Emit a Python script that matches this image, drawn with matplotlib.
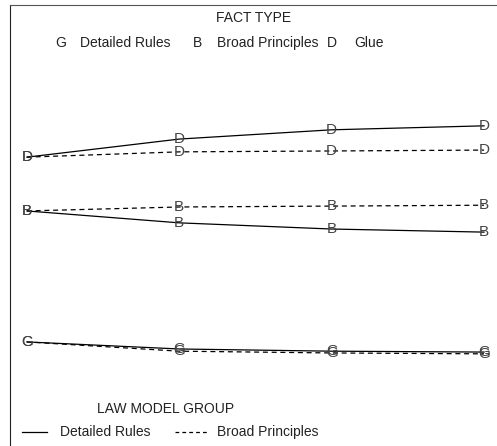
import matplotlib.pyplot as plt
from matplotlib.lines import Line2D

plt.rcParams['font.family'] = ['Liberation Sans', 'DejaVu Sans']

# x positions (4 time points) and values per fact type / law model group
periods = [1, 2, 3, 4]
glue_rules = [65.5, 69.6, 71.7, 72.6]
glue_principles = [65.5, 66.7, 66.9, 67.1]
broad_principles = [53.3, 54.2, 54.4, 54.6]
broad_rules = [53.3, 50.6, 49.2, 48.5]
detailed_rules = [23.6, 22.0, 21.5, 21.3]
detailed_principles = [23.6, 21.5, 21.1, 20.9]

series = [
    (glue_rules, 'D', '-'),
    (glue_principles, 'D', '--'),
    (broad_principles, 'B', '--'),
    (broad_rules, 'B', '-'),
    (detailed_rules, 'G', '-'),
    (detailed_principles, 'G', '--'),
]

W, H = 497, 446
fig = plt.figure(figsize=(W / 100, H / 100), dpi=100)
ax = fig.add_axes([10 / W, 0, 487 / W, 441 / H])
ax.set_xlim(0.889, 4.085)
ax.set_ylim(0, 100)

for vals, letter, ls in series:
    ax.plot(periods, vals, color='black', lw=0.9, ls=ls,
            dashes=(4, 3) if ls == '--' else (None, None))
    for x, y in zip(periods, vals):
        ax.text(x, y, letter, ha='center', va='center', fontsize=11,
                color='#444444')

ax.set_xticks([])
ax.set_yticks([])
for side in ['right', 'bottom']:
    ax.spines[side].set_visible(False)
ax.spines['top'].set_color('#555555')
ax.spines['left'].set_color('#222222')


def px(x, y):
    return x / W, 1 - y / H


tc = '#222222'
fs = 10
fig.text(*px(254, 18), 'FACT TYPE', ha='center', va='center', fontsize=fs, color=tc)
for x, s in [(55, 'G'), (80, 'Detailed Rules'), (193, 'B'), (217, 'Broad Principles'),
             (327, 'D'), (354, 'Glue')]:
    fig.text(*px(x, 43), s, ha='left', va='center', fontsize=fs, color=tc)

fig.text(*px(97, 409), 'LAW MODEL GROUP', ha='left', va='center', fontsize=fs, color=tc)
fig.add_artist(Line2D([22 / W, 47 / W], [1 - 432 / H] * 2, color='black', lw=0.9))
fig.add_artist(Line2D([175 / W, 208 / W], [1 - 432 / H] * 2, color='black', lw=0.9,
                      dashes=(3, 2.5)))
fig.text(*px(60, 432), 'Detailed Rules', ha='left', va='center', fontsize=fs, color=tc)
fig.text(*px(217, 432), 'Broad Principles', ha='left', va='center', fontsize=fs, color=tc)

fig.savefig('out.png', dpi=100)
